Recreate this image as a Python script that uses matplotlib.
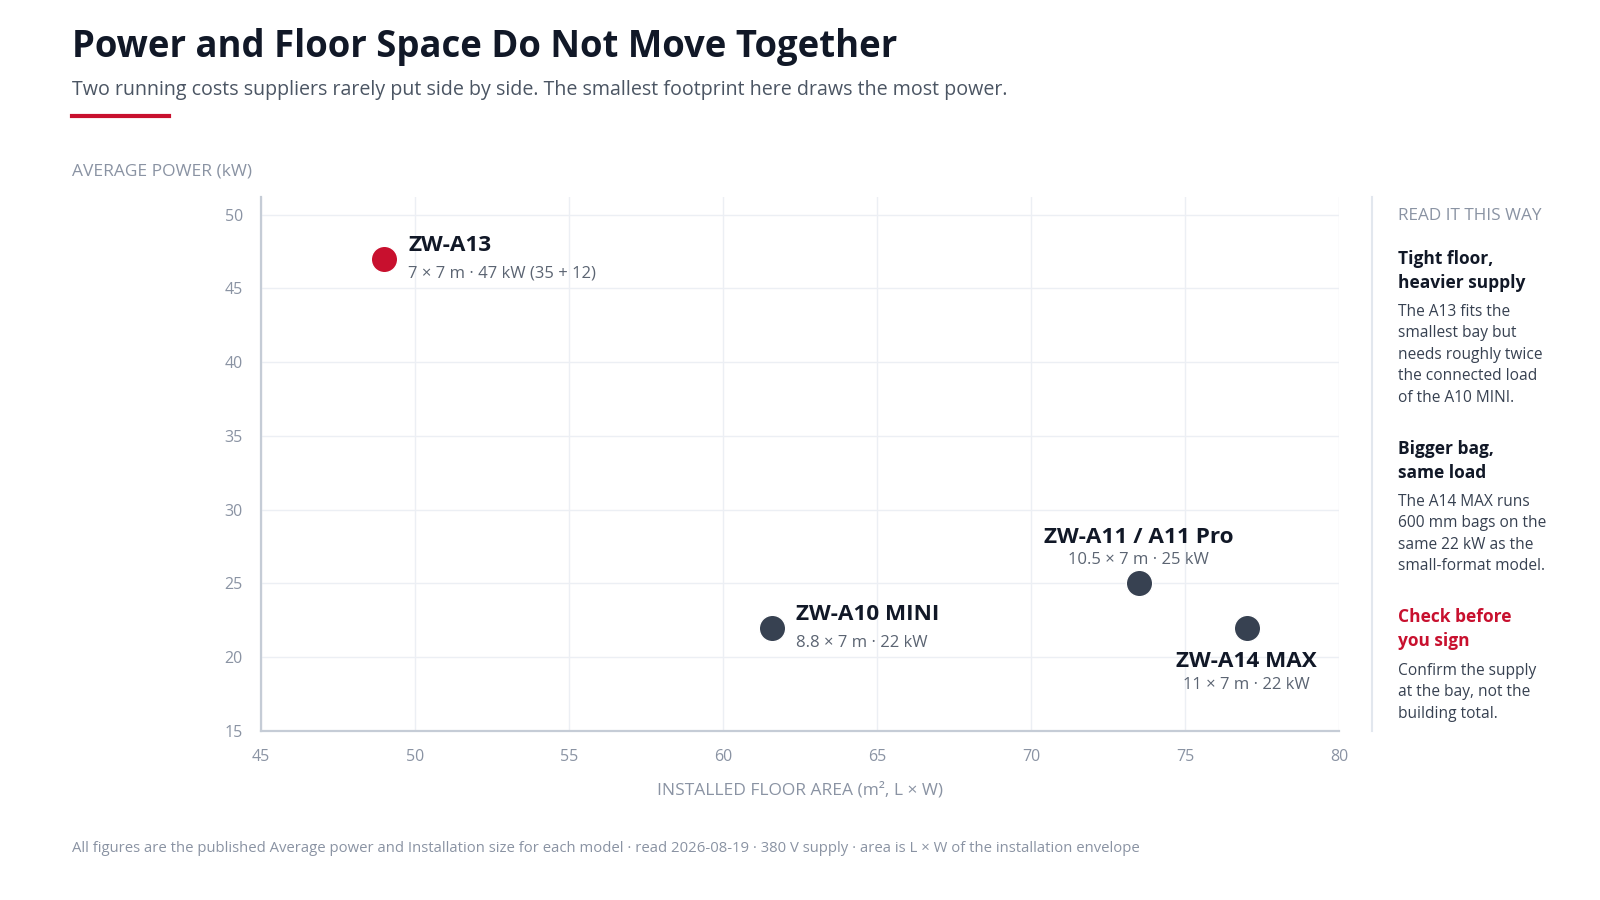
import matplotlib.pyplot as plt
from matplotlib.lines import Line2D

plt.rcParams['font.family'] = ['Open Sans', 'DejaVu Sans']

# Data
models = ["ZW-A13", "ZW-A10 MINI", "ZW-A11 / A11 Pro", "ZW-A14 MAX"]
floor_area = [49.0, 61.6, 73.5, 77.0]          # m², L x W
avg_power = [47, 22, 25, 22]                   # kW
details = ["7 × 7 m · 47 kW (35 + 12)", "8.8 × 7 m · 22 kW",
           "10.5 × 7 m · 25 kW", "11 × 7 m · 22 kW"]
highlight = [True, False, False, False]

x_ticks = [45, 50, 55, 60, 65, 70, 75, 80]
y_ticks = [15, 20, 25, 30, 35, 40, 45, 50]

RED = "#c8102e"
DARK = "#374151"
INK = "#111827"
MUTED = "#8a93a3"
GRID = "#eceff4"
SPINE = "#c5ccd6"

# label placement per point: (dx, dy) in pixels for name / detail, alignment
placement = {
    "ZW-A13": ((24, 13), (24, -15), "left"),
    "ZW-A10 MINI": ((24, 13), (24, -15), "left"),
    "ZW-A11 / A11 Pro": ((0, 46), (0, 23), "center"),
    "ZW-A14 MAX": ((0, -34), (0, -57), "center"),
}

fig = plt.figure(figsize=(16, 9), dpi=100)
ax = fig.add_axes([261 / 1600, 1 - 731 / 900, (1339 - 261) / 1600, (731 - 197) / 900])

ax.set_xlim(45, 80)
ax.set_ylim(15, 51.2)
ax.set_xticks(x_ticks)
ax.set_yticks(y_ticks)
ax.grid(True, color=GRID, linewidth=1)
ax.set_axisbelow(True)
for side in ["top", "right"]:
    ax.spines[side].set_visible(False)
for side in ["left", "bottom"]:
    ax.spines[side].set_color(SPINE)
    ax.spines[side].set_linewidth(1.6)
ax.tick_params(length=0, labelsize=11.5, colors=MUTED, pad=13)

for name, x, y, det, hi in zip(models, floor_area, avg_power, details, highlight):
    ax.plot(x, y, "o", markersize=19, color=RED if hi else DARK,
            markeredgecolor="white", markeredgewidth=1, zorder=3)
    name_off, det_off, ha = placement[name]
    ax.annotate(name, (x, y), xytext=name_off, textcoords="offset pixels",
                ha=ha, va="center", fontsize=16.2, fontweight="bold", color=INK)
    ax.annotate(det, (x, y), xytext=det_off, textcoords="offset pixels",
                ha=ha, va="center", fontsize=12, color="#5b6472")

# axis titles
fig.text(72 / 1600, 1 - 172 / 900, "AVERAGE POWER (kW)", fontsize=12.5,
         color=MUTED, va="center", ha="left")
fig.text(800 / 1600, 1 - 790 / 900, "INSTALLED FLOOR AREA (m², L × W)",
         fontsize=12.5, color=MUTED, va="center", ha="center")

# header
fig.text(72 / 1600, 1 - 47 / 900, "Power and Floor Space Do Not Move Together",
         fontsize=26.3, fontweight="bold", color=INK, va="center", ha="left")
fig.text(72 / 1600, 1 - 90 / 900,
         "Two running costs suppliers rarely put side by side. The smallest footprint here draws the most power.",
         fontsize=14.1, color="#4b5563", va="center", ha="left")
fig.add_artist(Line2D([72 / 1600, 169 / 1600], [1 - 116 / 900, 1 - 116 / 900],
                      color=RED, linewidth=3, transform=fig.transFigure))

# side panel
fig.add_artist(Line2D([1372 / 1600, 1372 / 1600], [1 - 197 / 900, 1 - 731 / 900],
                      color="#e2e7ee", linewidth=1.5, transform=fig.transFigure))
px = 1398 / 1600
fig.text(px, 1 - 216 / 900, "READ IT THIS WAY", fontsize=12.3, color=MUTED,
         va="center", ha="left")
notes = [
    ("Tight floor,\nheavier supply", INK, 257,
     "The A13 fits the\nsmallest bay but\nneeds roughly twice\nthe connected load\nof the A10 MINI.", 311),
    ("Bigger bag,\nsame load", INK, 447,
     "The A14 MAX runs\n600 mm bags on the\nsame 22 kW as the\nsmall-format model.", 501),
    ("Check before\nyou sign", RED, 615,
     "Confirm the supply\nat the bay, not the\nbuilding total.", 670),
]
for head, col, hy, body, by in notes:
    fig.text(px, 1 - (hy - 7) / 900, head, fontsize=12.5, fontweight="bold",
             color=col, va="top", ha="left", linespacing=1.45)
    fig.text(px, 1 - (by - 7) / 900, body, fontsize=11.2, color="#374151",
             va="top", ha="left", linespacing=1.45)

# footer
fig.text(72 / 1600, 1 - 848 / 900,
         "All figures are the published Average power and Installation size for each model · read 2026-08-19 · 380 V supply · area is L × W of the installation envelope",
         fontsize=10.75, color=MUTED, va="center", ha="left")

fig.savefig("out.png", dpi=100, facecolor="white")
